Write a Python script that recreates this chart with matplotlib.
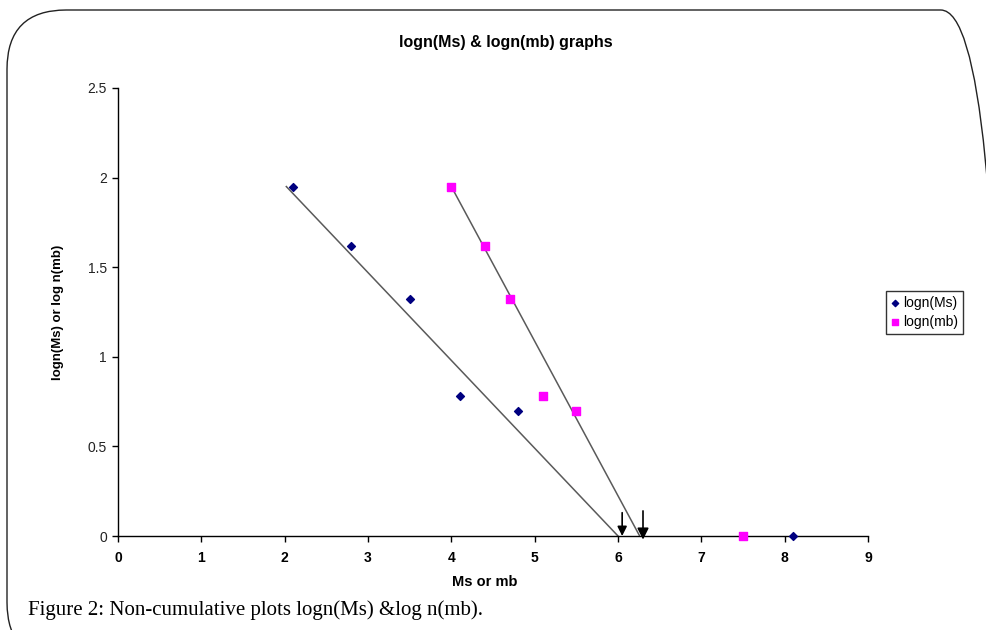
import matplotlib
matplotlib.use("Agg")
import matplotlib.pyplot as plt
from matplotlib.patches import FancyBboxPatch

# Data
ms_x = [2.1, 2.8, 3.5, 4.1, 4.8, 8.1]
ms_y = [1.95, 1.62, 1.32, 0.78, 0.70, 0.0]
mb_x = [4.0, 4.4, 4.7, 5.1, 5.5, 7.5]
mb_y = [1.95, 1.62, 1.32, 0.78, 0.70, 0.0]
ms_fit_x = [2.02, 6.0]
ms_fit_y = [1.95, 0.0]
mb_fit_x = [4.0, 6.26]
mb_fit_y = [1.95, 0.0]
arrow_x = [6.05, 6.3]
arrow_top = [0.13, 0.14]
x_ticks = [0, 1, 2, 3, 4, 5, 6, 7, 8, 9]
y_ticks = [0, 0.5, 1, 1.5, 2, 2.5]
y_tick_labels = ["0", "0.5", "1", "1.5", "2", "2.5"]

plt.rcParams['font.family'] = ['Liberation Sans', 'DejaVu Sans']

fig = plt.figure(figsize=(9.87, 6.30), dpi=100)
border = FancyBboxPatch((7/987, -0.05), (1000-7)/987, (630-10)/630 + 0.05,
                        boxstyle="round,pad=0,rounding_size=0.06",
                        transform=fig.transFigure, fill=False,
                        edgecolor='#222222', linewidth=1.0, mutation_aspect=987/630)
fig.patches.append(border)

ax = fig.add_axes([118/987, 1-536/630, (868-118)/987, (536-88)/630])
ax.set_xlim(0, 9)
ax.set_ylim(0, 2.5)
for s in ['top', 'right']:
    ax.spines[s].set_visible(False)
for s in ['left', 'bottom']:
    ax.spines[s].set_linewidth(1.0)
    ax.spines[s].set_color('black')

ax.plot(ms_fit_x, ms_fit_y, color='#5a5a5a', lw=1.1, zorder=2)
ax.plot(mb_fit_x, mb_fit_y, color='#5a5a5a', lw=1.1, zorder=2)
ax.scatter(ms_x, ms_y, marker='D', s=16, color='#000080', label='logn(Ms)', zorder=4, clip_on=False)
ax.scatter(mb_x, mb_y, marker='s', s=32, color='#ff00ff', label='logn(mb)', zorder=4, clip_on=False)

ax.annotate('', xy=(arrow_x[0], 0.0), xytext=(arrow_x[0], arrow_top[0]),
            arrowprops=dict(arrowstyle='-|>', color='black', lw=1.2, mutation_scale=14,
                            shrinkA=0, shrinkB=0))
ax.annotate('', xy=(arrow_x[1], -0.02), xytext=(arrow_x[1], arrow_top[1]),
            arrowprops=dict(arrowstyle='-|>', color='black', lw=1.2, mutation_scale=17,
                            shrinkA=0, shrinkB=0), annotation_clip=False)

ax.set_xticks(x_ticks)
ax.set_xticklabels([str(t) for t in x_ticks], fontweight='bold', fontsize=10)
ax.set_yticks(y_ticks)
ax.set_yticklabels(y_tick_labels, fontsize=10, color='#222222')
ax.tick_params(axis='both', direction='out', length=4, width=1)
ax.tick_params(axis='x', pad=7)
ax.tick_params(axis='y', pad=4)

ax.set_ylabel('logn(Ms) or log n(mb)', fontweight='bold', fontsize=9.5, labelpad=17)

fig.text(485/987, 1-582/630, 'Ms or mb', ha='center', va='center',
         fontweight='bold', fontsize=10.5)

fig.text(506/987, 1-42/630, 'logn(Ms) & logn(mb) graphs', ha='center', va='center',
         fontweight='bold', fontsize=11.5)

leg = ax.legend(loc='upper left', bbox_to_anchor=(886/987, 1-291/630), bbox_transform=fig.transFigure,
                frameon=True, fancybox=False, fontsize=10, handlelength=0.6, handletextpad=0.3,
                borderpad=0.35, labelspacing=0.35, borderaxespad=0, markerscale=0.8)
leg.get_frame().set_edgecolor('black')
leg.get_frame().set_linewidth(1.0)

fig.text(28/987, 1-610/630, 'Figure 2: Non-cumulative plots logn(Ms) &log n(mb).',
         ha='left', va='center', fontsize=15, family=['Liberation Serif', 'DejaVu Serif'])

fig.savefig('out.png', dpi=100)
